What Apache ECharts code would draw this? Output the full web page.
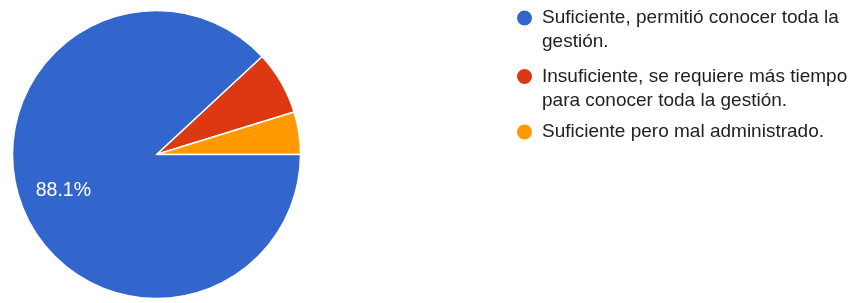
<!DOCTYPE html>
<html>
<head>
<meta charset="utf-8">
<script src="https://cdn.jsdelivr.net/npm/echarts@6/dist/echarts.min.js"></script>
<style>
  html, body { margin: 0; padding: 0; background: #fff; }
  #chart { width: 856px; height: 303px; }
</style>
</head>
<body>
<div id="chart"></div>
<script>
const categories = [
  "Suficiente, permitió conocer toda la gestión.",
  "Insuficiente, se requiere más tiempo para conocer toda la gestión.",
  "Suficiente pero mal administrado."
];
const counts = [37, 3, 2];
// order the slices are drawn in (clockwise from the red one)
const sliceOrder = [1, 2, 0];

const COLORS = ["#3366cc", "#dc3912", "#ff9900"];
const FONT = "Arial, 'Liberation Sans', sans-serif";

(function () {
  var total = counts.reduce((a, b) => a + b, 0);
  // small slices sit just above 3 o'clock, blue fills the rest
  var startAngle = 360 * (counts[1] + counts[2]) / total;

  var LEGEND_FONT = 19;
  var TEXT_WIDTH = 320;
  var LH = 24;

  // does the name need two lines at this width?
  var ctx = document.createElement('canvas').getContext('2d');
  ctx.font = LEGEND_FONT + 'px ' + FONT;
  function wraps(name) {
    return ctx.measureText(name).width > TEXT_WIDTH;
  }

  var pieData = sliceOrder.map(i => ({
    name: categories[i],
    value: counts[i],
    itemStyle: { color: COLORS[i] }
  }));

  var labelData = sliceOrder.map(i => ({
    name: categories[i],
    value: counts[i],
    label: { show: i === 0 }
  }));

  // text is centred on the marker, so pad with empty lines to keep the
  // first line level with the marker
  var legendData = categories.map(name => wraps(name)
    ? { name: name }
    : { name: name, textStyle: { lineHeight: 22 } });

  var option = {
    animation: false,
    legend: {
      orient: 'vertical',
      left: 515,
      top: 18 - 1.5 * LH,
      padding: 0,
      itemGap: -13.5,
      itemWidth: 17,
      itemHeight: 17,
      icon: 'circle',
      selectedMode: false,
      data: legendData,
      formatter: name => wraps(name) ? '\n' + name : '\n' + name + '\n ',
      textStyle: {
        fontFamily: FONT,
        fontSize: LEGEND_FONT,
        lineHeight: LH,
        color: '#222',
        padding: [0, 0, 0, 4],
        width: TEXT_WIDTH,
        overflow: 'break'
      }
    },
    series: [
      {
        type: 'pie',
        center: [156.5, 154.5],
        radius: [0, 144],
        startAngle: startAngle,
        clockwise: true,
        label: { show: false },
        labelLine: { show: false },
        itemStyle: { borderColor: '#fff', borderWidth: 1.5 },
        emphasis: { disabled: true },
        data: pieData
      },
      {
        // transparent ring only used to place the percent label
        type: 'pie',
        center: [156.5, 154.5],
        radius: [50, 144],
        startAngle: startAngle,
        clockwise: true,
        silent: true,
        percentPrecision: 1,
        itemStyle: { color: 'rgba(0,0,0,0)' },
        emphasis: { disabled: true },
        label: {
          position: 'inside',
          formatter: '{d}%',
          color: '#fff',
          fontFamily: FONT,
          fontSize: 19.5
        },
        labelLine: { show: false },
        data: labelData
      }
    ]
  };

  var myChart = echarts.init(document.getElementById('chart'), null, { renderer: 'canvas' });
  myChart.setOption(option);
})();
</script>
</body>
</html>
